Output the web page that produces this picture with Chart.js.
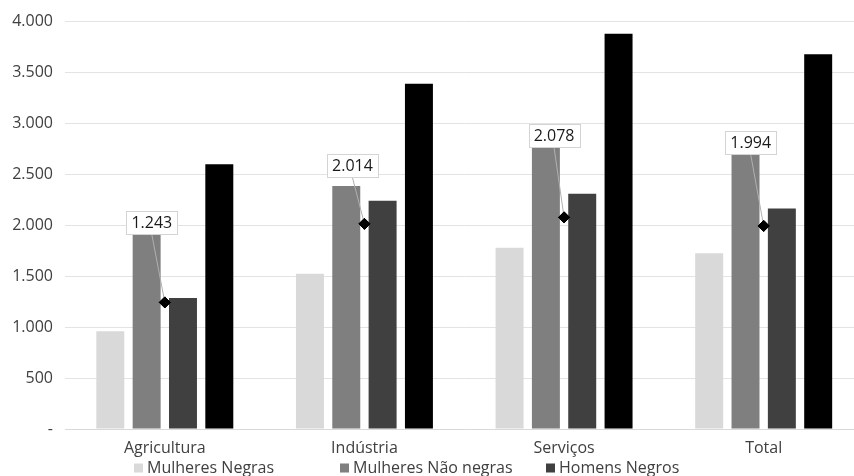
<!DOCTYPE html>
<html>
<head>
<meta charset="utf-8">
<script src="https://cdn.jsdelivr.net/npm/chart.js@4/dist/chart.umd.min.js"></script>
<style>
  html, body { margin: 0; padding: 0; background: #ffffff; overflow: hidden; }
  #wrap { position: absolute; left: 0; top: 0; width: 870px; height: 476px; }
</style>
</head>
<body>
<div id="wrap"><canvas id="chart" width="870" height="476"></canvas></div>
<script>
// Sectors and values per group
const categories = ['Agricultura', 'Indústria', 'Serviços', 'Total'];
const mulheresNegras = [960, 1525, 1780, 1725];
const mulheresNaoNegras = [1925, 2385, 2840, 2770];
const homensNegros = [1285, 2240, 2310, 2165];
const homensNaoNegros = [2600, 3390, 3880, 3680];
const destaque = [1243, 2014, 2078, 1994];
const yTicks = [0, 500, 1000, 1500, 2000, 2500, 3000, 3500, 4000];

const FONT = '"Open Sans", "Noto Sans", sans-serif';
const TEXT = '#404040';

function fmt(v) {
  if (v === 0) return '-';
  return String(v).replace(/\B(?=(\d{3})+(?!\d))/g, '.');
}

// Boxed value labels with leader lines, placed relative to each diamond
const calloutOffsets = [[-13, -80], [-12, -58], [-10, -82], [-13, -83]];
const calloutPlugin = {
  id: 'callouts',
  afterDatasetsDraw(chart) {
    const meta = chart.getDatasetMeta(4);
    const ctx = chart.ctx;
    ctx.save();
    ctx.font = '16px ' + FONT;
    meta.data.forEach((pt, i) => {
      const text = fmt(destaque[i]);
      const [dx, dy] = calloutOffsets[i];
      const cx = pt.x + dx, cy = pt.y + dy;
      const w = Math.round(ctx.measureText(text).width + 10), h = 23;
      const bx = Math.round(cx - w / 2) + 0.5, by = Math.round(cy - h / 2) + 0.5;
      ctx.strokeStyle = '#b0b0b0';
      ctx.lineWidth = 1;
      ctx.beginPath();
      ctx.moveTo(cx, by + h);
      ctx.lineTo(pt.x, pt.y);
      ctx.stroke();
      ctx.fillStyle = '#ffffff';
      ctx.fillRect(bx, by, w, h);
      ctx.strokeStyle = '#d4d4d4';
      ctx.strokeRect(bx, by, w, h);
      ctx.fillStyle = '#1a1a1a';
      ctx.textAlign = 'center';
      ctx.textBaseline = 'middle';
      ctx.fillText(text, cx, cy + 1);
    });
    ctx.restore();
    meta.data.forEach(p => p.draw(ctx));
  }
};

// Legend laid out in fixed-width columns
const legendPlugin = {
  id: 'columnLegend',
  afterDraw(chart) {
    const ctx = chart.ctx;
    const startX = 134, step = 206, yc = 468, box = 9;
    ctx.save();
    ctx.font = '16px ' + FONT;
    ctx.textBaseline = 'middle';
    ctx.textAlign = 'left';
    [0, 1, 2].forEach((di, k) => {
      const ds = chart.data.datasets[di];
      const x = startX + k * step;
      ctx.fillStyle = ds.backgroundColor;
      ctx.fillRect(x, yc - box / 2, box, box);
      ctx.fillStyle = TEXT;
      ctx.fillText(ds.label, x + 13, yc);
    });
    ctx.restore();
  }
};

const barCommon = { categoryPercentage: 0.728, barPercentage: 0.77, order: 2 };

new Chart(document.getElementById('chart'), {
  type: 'bar',
  data: {
    labels: categories,
    datasets: [
      Object.assign({ label: 'Mulheres Negras', data: mulheresNegras, backgroundColor: '#d9d9d9' }, barCommon),
      Object.assign({ label: 'Mulheres Não negras', data: mulheresNaoNegras, backgroundColor: '#7f7f7f' }, barCommon),
      Object.assign({ label: 'Homens Negros', data: homensNegros, backgroundColor: '#404040' }, barCommon),
      Object.assign({ label: 'Homens Não negros', data: homensNaoNegros, backgroundColor: '#000000' }, barCommon),
      {
        type: 'line', label: 'Destaque', data: destaque, showLine: false, order: 1,
        pointStyle: 'rectRot', pointRadius: 5.5, pointHoverRadius: 5.5,
        backgroundColor: '#000000', borderColor: '#000000', borderWidth: 1
      }
    ]
  },
  options: {
    responsive: false,
    animation: false,
    devicePixelRatio: 1,
    layout: { padding: { top: 20, right: 0, bottom: 0, left: 0 } },
    plugins: { legend: { display: false }, tooltip: { enabled: false } },
    scales: {
      x: {
        grid: { display: false, drawTicks: false },
        border: { display: true, color: '#d9d9d9', width: 1 },
        ticks: { color: TEXT, font: { family: FONT, size: 16 }, padding: 10, maxRotation: 0 },
        afterFit(scale) { scale.height = 47; }
      },
      y: {
        min: 0, max: 4000,
        grid: { color: '#e3e3e3', drawTicks: false, lineWidth: 1 },
        border: { display: false },
        afterBuildTicks(scale) { scale.ticks = yTicks.map(v => ({ value: v })); },
        ticks: { color: TEXT, font: { family: FONT, size: 16 }, padding: 12, callback: v => fmt(v) },
        afterFit(scale) { scale.width = 65; }
      }
    }
  },
  plugins: [calloutPlugin, legendPlugin]
});
</script>
</body>
</html>
